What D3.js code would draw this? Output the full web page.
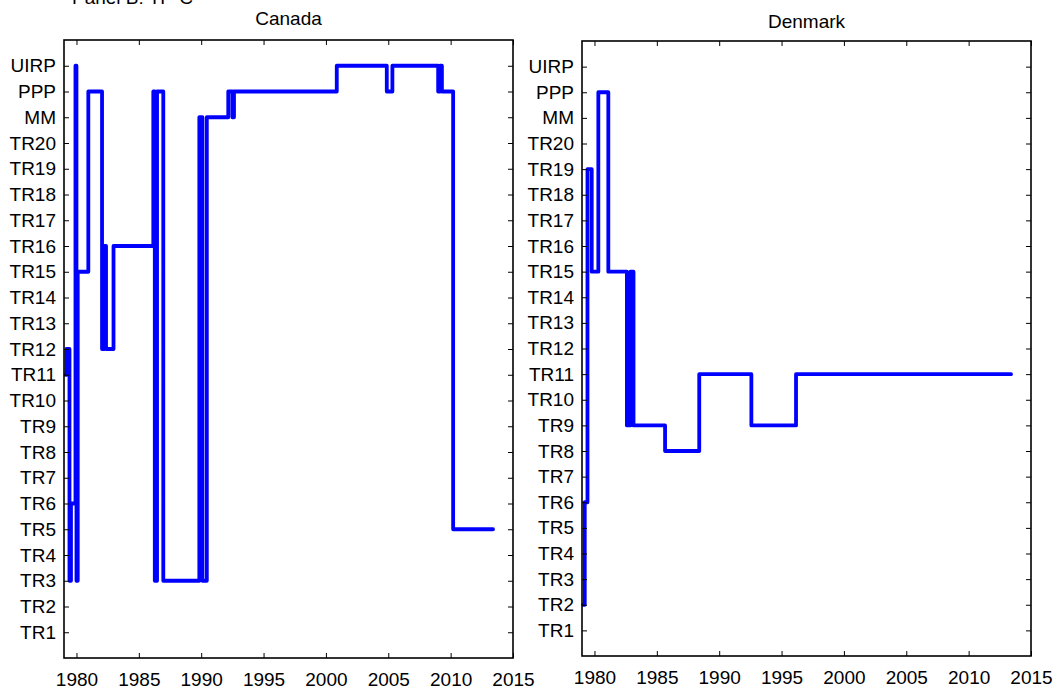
<!DOCTYPE html>
<html>
<head>
<meta charset="utf-8">
<script src="https://cdn.jsdelivr.net/npm/d3@7"></script>
<style>
  html, body { margin: 0; padding: 0; background: #fff; }
  svg { display: block; }
  text { font-family: "Liberation Sans", Arial, Helvetica, sans-serif; fill: #000; }
</style>
</head>
<body>
<svg id="chart" width="1060" height="693"></svg>
<script>
// Model labels on the vertical axis, bottom to top (TR1 = 1 ... UIRP = 23)
const models = ["TR1","TR2","TR3","TR4","TR5","TR6","TR7","TR8","TR9","TR10",
  "TR11","TR12","TR13","TR14","TR15","TR16","TR17","TR18","TR19","TR20",
  "MM","PPP","UIRP"];

// Year ticks
const yearTicks = [1980, 1985, 1990, 1995, 2000, 2005, 2010, 2015];

// Canada: dates where the selected model changes, and the model chosen from then on
const canadaYears = [1979.13, 1979.2, 1979.44, 1979.56, 1979.92, 1980.0, 1980.1,
  1980.95, 1982.05, 1982.25, 1982.37, 1982.97, 1986.16, 1986.28, 1986.46, 1986.96,
  1989.85, 1990.1, 1990.45, 1992.17, 1992.5, 1992.63, 2000.87, 2004.88, 2005.33,
  2009.0, 2009.15, 2009.3, 2010.2];
const canadaModels = ["TR11","TR12","TR3","TR6","UIRP","TR3","TR15",
  "PPP","TR12","TR16","TR12","TR16","PPP","TR3","PPP","TR3",
  "MM","TR3","MM","PPP","MM","PPP","UIRP","PPP","UIRP",
  "PPP","UIRP","PPP","TR5"];

// Denmark: dates where the selected model changes, and the model chosen from then on
const denmarkYears = [1979.1, 1979.22, 1979.44, 1979.78, 1980.31, 1981.11,
  1982.6, 1982.88, 1983.13, 1985.66, 1988.4, 1992.58, 1996.16];
const denmarkModels = ["TR2","TR6","TR19","TR15","PPP","TR15",
  "TR9","TR15","TR9","TR8","TR11","TR9","TR11"];

// Last month of the sample
const sampleEnd = 2013.4;

const svg = d3.select("#chart");

svg.append("text")
  .attr("x", 72).attr("y", 4)
  .style("font-size", "19px")
  .text("Panel B: TP-C");

const panels = [
  { title: "Canada", years: canadaYears, picks: canadaModels,
    left: 64, right: 513, top: 40, bottom: 658, titleY: 25 },
  { title: "Denmark", years: denmarkYears, picks: denmarkModels,
    left: 582, right: 1031, top: 41, bottom: 656, titleY: 28 }
];

const tickLen = 5;

panels.forEach(p => {
  const x = d3.scaleLinear().domain([1979, 2015]).range([p.left, p.right]);
  const y = d3.scaleLinear().domain([0, models.length + 1]).range([p.bottom, p.top]);
  const idx = m => models.indexOf(m) + 1;
  const modelTicks = models.map((m, i) => i + 1);

  const g = svg.append("g");

  // Stepped series of the chosen model
  const pts = p.years.map((yr, i) => [yr, idx(p.picks[i])]);
  pts.push([sampleEnd, idx(p.picks[p.picks.length - 1])]);
  const line = d3.line()
    .x(d => x(d[0])).y(d => y(d[1]))
    .curve(d3.curveStepAfter);
  g.append("path")
    .datum(pts)
    .attr("d", line)
    .attr("fill", "none")
    .attr("stroke", "#0000ff")
    .attr("stroke-width", 3.8)
    .attr("stroke-linejoin", "round")
    .attr("stroke-linecap", "round");

  // Axes: labels on bottom/left, inward ticks on all four sides
  const bottomAx = d3.axisBottom(x).tickValues(yearTicks).tickFormat(d3.format("d"))
    .tickSizeInner(-tickLen).tickSizeOuter(0).tickPadding(15);
  const topAx = d3.axisTop(x).tickValues(yearTicks).tickFormat("")
    .tickSizeInner(-tickLen).tickSizeOuter(0);
  const leftAx = d3.axisLeft(y).tickValues(modelTicks).tickFormat(v => models[v - 1])
    .tickSizeInner(-tickLen).tickSizeOuter(0).tickPadding(8);
  const rightAx = d3.axisRight(y).tickValues(modelTicks).tickFormat("")
    .tickSizeInner(-tickLen).tickSizeOuter(0);

  const axes = [
    g.append("g").attr("transform", `translate(0,${p.bottom})`).call(bottomAx),
    g.append("g").attr("transform", `translate(0,${p.top})`).call(topAx),
    g.append("g").attr("transform", `translate(${p.left},0)`).call(leftAx),
    g.append("g").attr("transform", `translate(${p.right},0)`).call(rightAx)
  ];
  axes.forEach(a => {
    a.select(".domain").remove();
    a.selectAll(".tick line").attr("stroke", "#000").attr("stroke-width", 1);
    a.selectAll("text")
      .style("font-size", "19px")
      .style("font-family", "'Liberation Sans', Arial, sans-serif")
      .attr("fill", "#000");
  });

  // Box frame
  g.append("rect")
    .attr("x", p.left).attr("y", p.top)
    .attr("width", p.right - p.left).attr("height", p.bottom - p.top)
    .attr("fill", "none").attr("stroke", "#000").attr("stroke-width", 1.6);

  g.append("text")
    .attr("x", (p.left + p.right) / 2).attr("y", p.titleY)
    .attr("text-anchor", "middle")
    .style("font-size", "19px")
    .text(p.title);
});
</script>
</body>
</html>
